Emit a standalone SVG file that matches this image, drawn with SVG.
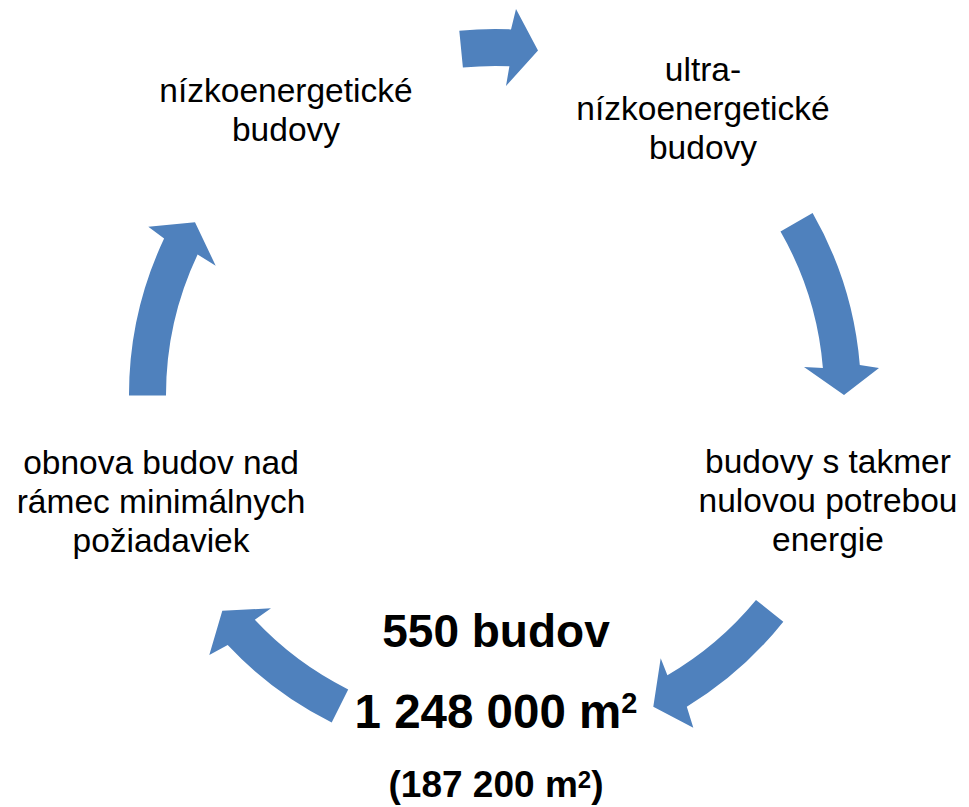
<svg xmlns="http://www.w3.org/2000/svg" width="969" height="807" viewBox="0 0 969 807">
<style>
.t{font-family:"Liberation Sans",Arial,sans-serif;font-size:33.5px;fill:#000;text-anchor:middle}
.b{font-family:"Liberation Sans",Arial,sans-serif;font-weight:bold;fill:#000;text-anchor:middle}
.arr{fill:#4F81BD;stroke:none}
</style>
<rect width="969" height="807" fill="#fff"/>
<g id="connectors">
<path class="arr" d="M459.3,30.8 A366,366 0 0 1 511,29.4 L516,9 L538,50.5 L506,86 L509.4,66.3 A329,329 0 0 0 462.9,67.6 Z"/>
<path class="arr" d="M812.6,213.1 A366,366 0 0 1 859.8,365 L879,368 L844,395 L804,367 L822.9,368 A329,329 0 0 0 780.5,231.5 Z"/>
<path class="arr" d="M783.3,621.7 A366,366 0 0 1 686.8,706.7 L693.3,727.7 L653.3,706.7 L660.7,658.3 L667.4,675.2 A329,329 0 0 0 756,600 Z"/>
<path class="arr" d="M331.7,722.5 A366,366 0 0 1 227.7,645.1 L209.3,655 L222.3,610.7 L271,608.3 L254.8,619.8 A329,329 0 0 0 348.2,689.4 Z"/>
<path class="arr" d="M129,395.5 A366,366 0 0 1 164.1,238.6 L148.3,226.7 L195,222.3 L215.7,265.7 L197.6,254.4 A329,329 0 0 0 166,395.5 Z"/>
</g>
<g id="node-nizkoenergeticke">
<text class="t" x="286" y="102">nízkoenergetické</text>
<text class="t" x="286" y="141">budovy</text>
</g>
<g id="node-ultra">
<text class="t" x="703" y="81">ultra-</text>
<text class="t" x="703" y="120">nízkoenergetické</text>
<text class="t" x="703" y="159">budovy</text>
</g>
<g id="node-nulove">
<text class="t" x="828" y="473">budovy s takmer</text>
<text class="t" x="828" y="512">nulovou potrebou</text>
<text class="t" x="828" y="551">energie</text>
</g>
<g id="node-obnova">
<text class="t" x="161" y="474" font-size="34.5">obnova budov nad</text>
<text class="t" x="161" y="513" font-size="34.5">rámec minimálnych</text>
<text class="t" x="161" y="552" font-size="34.5">požiadaviek</text>
</g>
<g id="node-center">
<text class="b" x="496" y="647" font-size="46">550 budov</text>
<text class="b" x="496" y="728" font-size="47.5">1 248 000 m<tspan font-size="29" dy="-15">2</tspan></text>
<text class="b" x="496" y="797" font-size="37">(187 200 m<tspan font-size="24" dy="-9">2</tspan><tspan dy="9">)</tspan></text>
</g>
</svg>
